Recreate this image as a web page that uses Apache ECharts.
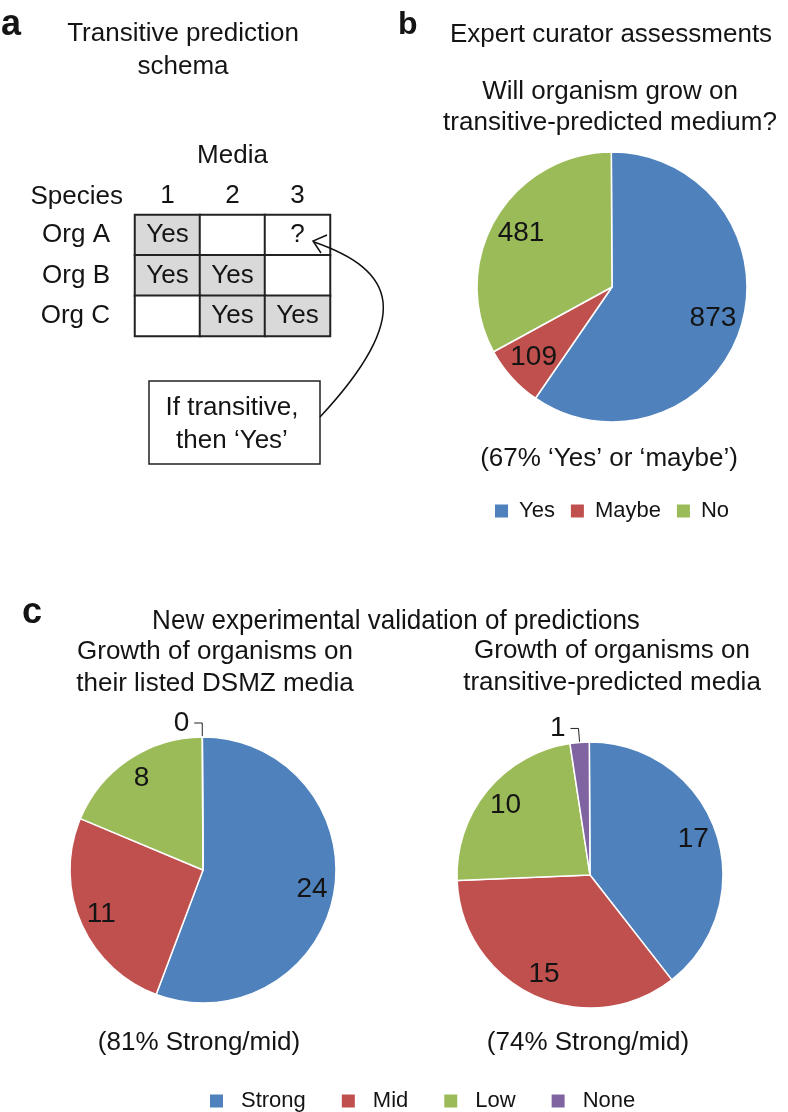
<!DOCTYPE html>
<html>
<head>
<meta charset="utf-8">
<script src="https://cdn.jsdelivr.net/npm/echarts@6/dist/echarts.min.js"></script>
<style>
  html, body { margin: 0; padding: 0; background: #fff; }
  #chart { width: 788px; height: 1112px; }
</style>
</head>
<body>
<div id="chart"></div>
<script>
// panel a - schema table
const mediaCols = ['1', '2', '3']
const orgRows = ['Org A', 'Org B', 'Org C']
const schemaCells = [
  ['Yes', '', '?'],
  ['Yes', 'Yes', ''],
  ['', 'Yes', 'Yes']
]

// panel b - curator assessments
const curatorNames = ['Yes', 'Maybe', 'No']
const curatorValues = [873, 109, 481]

// panel c - experimental validation
const growthNames = ['Strong', 'Mid', 'Low', 'None']
const dsmzValues = [24, 11, 8, 0]
const transitiveValues = [17, 15, 10, 1]

const FONT = '"Liberation Sans", Arial, Helvetica, sans-serif'
const INK = '#141414'
const colors = {
  Yes: '#4f81bd', Maybe: '#c0504d', No: '#9bbb59',
  Strong: '#4f81bd', Mid: '#c0504d', Low: '#9bbb59', None: '#8064a2'
}
const txt = { fontFamily: FONT, fontSize: 26, color: INK, fontWeight: 'normal' }
const pieTxt = { fontFamily: FONT, fontSize: 28, color: INK, fontWeight: 'normal' }

const cellData = []
schemaCells.forEach((row, y) => {
  row.forEach((t, x) => {
    cellData.push({
      value: [x, y, t === 'Yes' ? 1 : 0],
      itemStyle: { color: t === 'Yes' ? '#d9d9d9' : '#ffffff' },
      label: { show: t !== '', formatter: t }
    })
  })
})

function mainPie(names, values, center, r) {
  const sum = values.reduce((a, b) => a + b, 0)
  return {
    type: 'pie',
    center: center,
    radius: r,
    // a hair past 12 o'clock so a zero slice's label falls on the left
    startAngle: 90.3,
    clockwise: true,
    avoidLabelOverlap: false,
    silent: true,
    itemStyle: { borderColor: '#fff', borderWidth: 1.5 },
    label: Object.assign({ show: false, formatter: '{c}' }, pieTxt),
    labelLine: { show: false, length: 14, length2: 8, lineStyle: { color: '#222', width: 1 } },
    data: names.map((n, i) => {
      const small = values[i] / sum < 0.03
      return {
        name: n,
        value: values[i],
        itemStyle: { color: colors[n] },
        label: { show: small, position: 'outside' },
        labelLine: { show: small }
      }
    })
  }
}

// transparent twin pie, only used to put the inside labels further out
function labelPie(names, values, center, r, k) {
  const sum = values.reduce((a, b) => a + b, 0)
  return {
    type: 'pie',
    center: center,
    radius: [0, r * k],
    startAngle: 90.3,
    clockwise: true,
    silent: true,
    z: 3,
    itemStyle: { color: 'rgba(0,0,0,0)', borderWidth: 0 },
    label: Object.assign({ show: true, position: 'inside', formatter: '{c}' }, pieTxt),
    labelLine: { show: false },
    data: names.map((n, i) => ({
      name: n,
      value: values[i],
      label: { show: values[i] / sum >= 0.03 }
    }))
  }
}

const chart = echarts.init(document.getElementById('chart'))

const option = {
  animation: false,
  backgroundColor: '#fff',
  title: [
    { text: 'Transitive prediction\nschema', left: 183, top: 17, textAlign: 'center', padding: 0,
      textStyle: Object.assign({ lineHeight: 33 }, txt) },
    { text: 'Expert curator assessments', left: 611, top: 20, textAlign: 'center', padding: 0,
      textStyle: Object.assign({ lineHeight: 30 }, txt) },
    { text: 'Will organism grow on\ntransitive-predicted medium?', left: 610, top: 76, textAlign: 'center', padding: 0,
      textStyle: Object.assign({ lineHeight: 31 }, txt) },
    { text: '(67% ‘Yes’ or ‘maybe’)', left: 609, top: 444, textAlign: 'center', padding: 0,
      textStyle: Object.assign({ lineHeight: 30 }, txt) },
    { text: 'Growth of organisms on\ntheir listed DSMZ media', left: 215, top: 636, textAlign: 'center', padding: 0,
      textStyle: Object.assign({ lineHeight: 32 }, txt) },
    { text: 'Growth of organisms on\ntransitive-predicted media', left: 612, top: 635, textAlign: 'center', padding: 0,
      textStyle: Object.assign({ lineHeight: 32 }, txt) },
    { text: '(81% Strong/mid)', left: 199, top: 1028, textAlign: 'center', padding: 0,
      textStyle: Object.assign({ lineHeight: 30 }, txt) },
    { text: '(74% Strong/mid)', left: 588, top: 1028, textAlign: 'center', padding: 0,
      textStyle: Object.assign({ lineHeight: 30 }, txt) }
  ],
  legend: [
    { data: curatorNames, left: 493, top: 500, padding: 0, icon: 'rect', itemWidth: 15, itemHeight: 15, itemGap: 14,
      selectedMode: false, textStyle: { fontFamily: FONT, fontSize: 22, color: INK, padding: [0, 0, 0, 5] } },
    { data: growthNames, left: 208, top: 1090, padding: 0, icon: 'rect', itemWidth: 15, itemHeight: 15, itemGap: 34,
      selectedMode: false, textStyle: { fontFamily: FONT, fontSize: 22, color: INK, padding: [0, 0, 0, 12] } }
  ],
  grid: { left: 135, top: 215, width: 195, height: 121 },
  xAxis: {
    type: 'category', position: 'top', data: mediaCols,
    name: 'Media', nameLocation: 'middle', nameGap: 46,
    nameTextStyle: txt,
    axisLine: { show: false }, axisTick: { show: false },
    axisLabel: Object.assign({ margin: 6 }, txt),
    splitLine: { show: false }
  },
  yAxis: {
    type: 'category', inverse: true, data: orgRows,
    axisLine: { show: false }, axisTick: { show: false },
    axisLabel: Object.assign({ margin: 25 }, txt),
    splitLine: { show: false }
  },
  series: [
    {
      type: 'heatmap',
      silent: true,
      data: cellData,
      itemStyle: { borderColor: '#222', borderWidth: 2 },
      label: Object.assign({ show: true }, txt)
    },
    mainPie(curatorNames, curatorValues, [612, 287], 135),
    mainPie(growthNames, dsmzValues, [203, 870], 133),
    mainPie(growthNames, transitiveValues, [590, 875], 133),
    labelPie(curatorNames, curatorValues, [612, 287], 135, 1.52),
    labelPie(growthNames, dsmzValues, [203, 870], 133, 1.62),
    labelPie(growthNames, transitiveValues, [590, 875], 133, 1.6)
  ],
  graphic: [
    { type: 'text', x: 1, y: 25, style: { text: 'a', font: 'bold 36px ' + FONT, fill: INK, textVerticalAlign: 'middle' } },
    { type: 'text', x: 398, y: 25, style: { text: 'b', font: 'bold 32px ' + FONT, fill: INK, textVerticalAlign: 'middle' } },
    { type: 'text', x: 22, y: 613, style: { text: 'c', font: 'bold 36px ' + FONT, fill: INK, textVerticalAlign: 'middle' } },
    { type: 'text', x: 396, y: 621, scaleX: 0.93,
      style: { text: 'New experimental validation of predictions', font: '28px ' + FONT, fill: INK,
        textAlign: 'center', textVerticalAlign: 'middle' } },
    { type: 'text', x: 123, y: 197,
      style: { text: 'Species', font: '26px ' + FONT, fill: INK, textAlign: 'right', textVerticalAlign: 'middle' } },
    { type: 'rect', z: 100, shape: { x: 149, y: 381, width: 171, height: 83 },
      style: { fill: '#fff', stroke: '#222', lineWidth: 1.5 } },
    { type: 'text', z: 101, x: 232, y: 424,
      style: { text: 'If transitive,\nthen ‘Yes’', font: '26px ' + FONT, fill: INK, lineHeight: 33,
        textAlign: 'center', textVerticalAlign: 'middle' } },
    { type: 'bezierCurve', z: 100,
      shape: { x1: 320, y1: 417, cpx1: 415, cpy1: 315, cpx2: 395, cpy2: 270, x2: 314, y2: 242 },
      style: { fill: null, stroke: '#111', lineWidth: 1.5 } },
    { type: 'polyline', z: 100, shape: { points: [[327, 235], [313, 241], [321, 253]] },
      style: { fill: null, stroke: '#111', lineWidth: 1.5 } }
  ]
}

chart.setOption(option)
</script>
</body>
</html>
